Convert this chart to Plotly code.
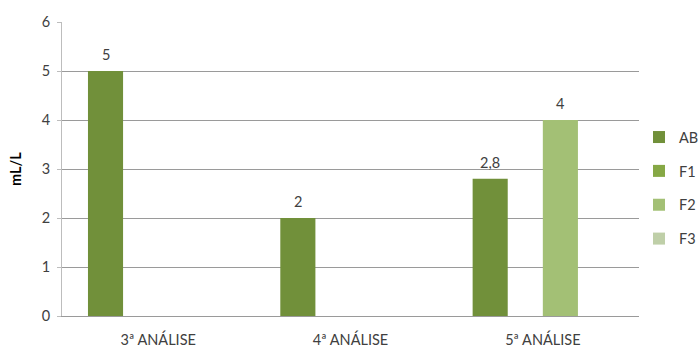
import plotly.graph_objects as go

categories = ["3ª ANÁLISE", "4ª ANÁLISE", "5ª ANÁLISE"]
series_names = ["AB", "F1", "F2", "F3"]
ab_values = [5, 2, 2.8]
f1_values = [None, None, None]
f2_values = [None, None, 4]
f3_values = [None, None, None]
y_ticks = [0, 1, 2, 3, 4, 5, 6]

colors = ["#71903a", "#86a845", "#a3c075", "#bfcfa8"]
values = [ab_values, f1_values, f2_values, f3_values]

FONT = "Lato"
FS = 14.5
ML, MR, MT, MB = 62, 61, 22, 33
W, H = 700, 349
BARGAP = 0.27
plot_w = W - ML - MR
bar_px = plot_w / len(categories) * (1 - BARGAP) / len(series_names)

fig = go.Figure()
annotations = []
for i, (name, vals, col) in enumerate(zip(series_names, values, colors)):
    fig.add_trace(go.Bar(
        x=categories, y=vals, name=name, legendgroup=name,
        marker=dict(color=col, line=dict(width=0)),
        hoverinfo="skip",
    ))
    for cat, v in zip(categories, vals):
        if v is None:
            continue
        annotations.append(dict(
            x=cat, y=v, xref="x", yref="y", text=f"{v}".replace(".", ","),
            showarrow=False, yanchor="bottom", xanchor="center",
            xshift=(i - (len(series_names) - 1) / 2) * bar_px, yshift=6,
            font=dict(family=FONT, size=FS, color="#404040"),
        ))

fig.update_layout(
    width=W, height=H,
    margin=dict(l=ML, r=MR, t=MT, b=MB, autoexpand=False),
    paper_bgcolor="white", plot_bgcolor="white",
    barmode="group", bargap=BARGAP, bargroupgap=0,
    separators=",.",
    font=dict(family=FONT, size=FS, color="#404040"),
    showlegend=True,
    annotations=annotations,
    legend=dict(x=1.0, y=0.435, xanchor="left", yanchor="middle",
                traceorder="grouped", tracegroupgap=12,
                font=dict(family=FONT, size=FS, color="#404040"),
                itemwidth=30),
    yaxis=dict(range=[0, 6], tickvals=y_ticks, showgrid=True,
               gridcolor="#9a9a9a", gridwidth=1, zeroline=False,
               showline=True, linecolor="#bdbdbd", ticks="outside",
               ticklen=4, tickcolor="#bdbdbd", ticklabelstandoff=4,
               tickfont=dict(family=FONT, size=FS, color="#404040"),
               title=dict(text="<b>mL/L</b>", font=dict(family=FONT, size=FS, color="#000000"), standoff=16)),
    xaxis=dict(showline=True, linecolor="#9a9a9a", ticks="", ticklabelstandoff=11,
               tickfont=dict(family=FONT, size=FS, color="#404040")),
)

fig.write_html("out.html")
